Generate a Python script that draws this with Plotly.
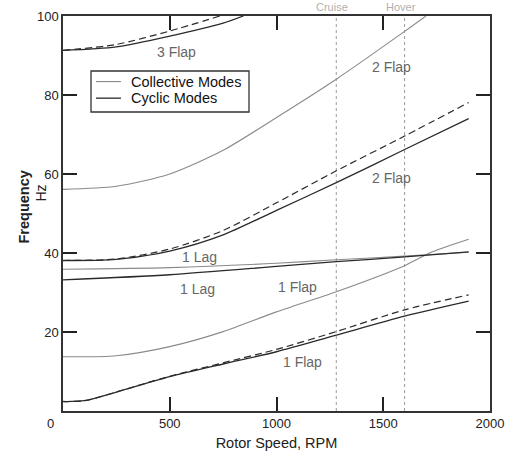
import plotly.graph_objects as go

# ---- data ----
rpm_3flap_cyc = [0, 250, 500, 750, 845]
hz_3flap_cyc = [91.3, 92.2, 94.9, 98.2, 100]
rpm_3flap_dash = [0, 250, 500, 735]
hz_3flap_dash = [91.3, 92.8, 96.2, 100]

rpm_2flap_col = [0, 250, 500, 750, 1000, 1280, 1600, 1700]
hz_2flap_col = [56.1, 56.9, 60.0, 66.0, 74.3, 84.0, 96.1, 100]

rpm_2flap_cyc = [0, 250, 500, 750, 1000, 1280, 1600, 1900]
hz_2flap_cyc = [38.1, 38.4, 40.5, 44.6, 50.8, 57.8, 66.2, 74.0]
rpm_2flap_dash = [0, 250, 500, 750, 1000, 1280, 1600, 1900]
hz_2flap_dash = [38.1, 38.5, 41.0, 45.7, 52.7, 60.8, 69.6, 78.1]

rpm_1lag_col = [0, 500, 1000, 1280, 1600, 1900]
hz_1lag_col = [35.9, 36.3, 37.4, 38.3, 39.2, 40.2]
rpm_1lag_cyc = [0, 500, 1000, 1280, 1600, 1900]
hz_1lag_cyc = [33.2, 34.5, 36.6, 37.8, 39.0, 40.3]

rpm_1flap_col = [0, 250, 500, 750, 1000, 1280, 1600, 1730, 1900]
hz_1flap_col = [13.75, 14.0, 16.3, 20.1, 25.1, 30.2, 36.8, 40.3, 43.5]

rpm_1flap_cyc = [0, 100, 250, 500, 750, 1000, 1280, 1600, 1900]
hz_1flap_cyc = [2.4, 2.6, 4.8, 8.7, 11.9, 15.0, 19.2, 24.0, 27.8]
rpm_1flap_dash = [0, 100, 250, 500, 750, 1000, 1280, 1600, 1900]
hz_1flap_dash = [2.4, 2.6, 4.8, 8.8, 12.2, 15.6, 20.1, 25.6, 29.4]

op_speeds = [1280, 1600]
op_labels = ["Cruise", "Hover"]

x_ticks = [0, 500, 1000, 1500, 2000]
y_ticks = [20, 40, 60, 80, 100]

mode_labels = ["3 Flap", "2 Flap", "2 Flap", "1 Lag", "1 Lag", "1 Flap", "1 Flap"]
label_rpm = [530, 1540, 1540, 640, 630, 1100, 1120]
label_hz = [91, 87, 59, 39, 31, 31.5, 12.3]

legend_names = ["Collective Modes", "Cyclic Modes"]

FONT = "Liberation Sans, Arial, Helvetica, sans-serif"
COL = "#8a8a8a"
CYC = "#2a2a2a"

fig = go.Figure()

def add(x, y, kind, name=None):
    if kind == "col":
        line = dict(color=COL, width=1.1)
    elif kind == "cyc":
        line = dict(color=CYC, width=1.3)
    else:
        line = dict(color=CYC, width=1.2, dash="7px,4px")
    line["shape"] = "spline"
    line["smoothing"] = 0.75
    fig.add_trace(go.Scatter(x=x, y=y, mode="lines", line=line,
                             name=name or kind, showlegend=False, hoverinfo="skip"))

add(rpm_1flap_dash, hz_1flap_dash, "dash")
add(rpm_2flap_dash, hz_2flap_dash, "dash")
add(rpm_3flap_dash, hz_3flap_dash, "dash")
add(rpm_2flap_col, hz_2flap_col, "col", legend_names[0])
add(rpm_1lag_col, hz_1lag_col, "col", legend_names[0])
add(rpm_1flap_col, hz_1flap_col, "col", legend_names[0])
add(rpm_3flap_cyc, hz_3flap_cyc, "cyc", legend_names[1])
add(rpm_2flap_cyc, hz_2flap_cyc, "cyc", legend_names[1])
add(rpm_1lag_cyc, hz_1lag_cyc, "cyc", legend_names[1])
add(rpm_1flap_cyc, hz_1flap_cyc, "cyc", legend_names[1])

for s in op_speeds:
    fig.add_shape(type="line", xref="x", yref="paper", x0=s, x1=s, y0=0, y1=1,
                  line=dict(color="#9a9a9a", width=1, dash="dot"), layer="below")

for s, t in zip(op_speeds, op_labels):
    fig.add_annotation(x=s, xref="x", y=1, yref="paper", text=t, showarrow=False,
                       xshift=-4, yshift=9, yanchor="middle", xanchor="center",
                       font=dict(family=FONT, size=11, color="#b0b0b0"))

for t, xr, yh in zip(mode_labels, label_rpm, label_hz):
    fig.add_annotation(x=xr, y=yh, text=t, showarrow=False, xanchor="center", yanchor="middle",
                       font=dict(family=FONT, size=14, color="#666666"))

# ---- legend box (drawn in paper coordinates) ----
fig.add_shape(type="rect", xref="paper", yref="paper", x0=0.0656, x1=0.4356, y0=0.757, y1=0.8608,
              line=dict(color="#333", width=1.3), fillcolor="white", layer="above")
leg_y = [0.8340, 0.7920]
leg_col = [COL, CYC]
leg_w = [1.1, 1.3]
for name, yy, c, w in zip(legend_names, leg_y, leg_col, leg_w):
    fig.add_shape(type="line", xref="paper", yref="paper", x0=0.0773, x1=0.1358, y0=yy, y1=yy,
                  line=dict(color=c, width=w), layer="above")
    fig.add_annotation(x=0.1546, xref="paper", y=yy, yref="paper", text=name, showarrow=False,
                       xanchor="left", yanchor="middle",
                       font=dict(family=FONT, size=14.5, color="#111"))

# lone "0" under the corner
fig.add_annotation(x=0, xref="paper", y=0, yref="paper", text="0", showarrow=False,
                   xanchor="center", yanchor="middle",
                   xshift=-13, yshift=-12, font=dict(family=FONT, size=13, color="#222"))

# y-axis title (two lines, rotated)
fig.add_annotation(x=0, xref="paper", y=0.5, yref="paper", text="<b>Frequency</b>", showarrow=False,
                   textangle=-90, xanchor="center", yanchor="middle", xshift=-40, yshift=6,
                   font=dict(family=FONT, size=14.5, color="#222"))
fig.add_annotation(x=0, xref="paper", y=0.5, yref="paper", text="Hz", showarrow=False,
                   textangle=-90, xanchor="center", yanchor="middle", xshift=-23, yshift=20,
                   font=dict(family=FONT, size=14, color="#222"))

fig.update_layout(
    width=514, height=452,
    margin=dict(l=63, r=24, t=16, b=41),
    paper_bgcolor="white", plot_bgcolor="white",
    font=dict(family=FONT, size=13, color="#222222"),
    showlegend=False,
    xaxis=dict(range=[0, 2000], tickvals=x_ticks,
               ticktext=["" if v == 0 else str(v) for v in x_ticks],
               ticks="inside", ticklen=14, tickwidth=1.5, tickcolor="#222",
               showline=True, linecolor="#333", linewidth=1.5, mirror="ticks",
               showgrid=False, zeroline=False, automargin=False, ticklabelstandoff=0,
               title=dict(text="Rotor Speed, RPM", standoff=8,
                          font=dict(family=FONT, size=14.5, color="#222"))),
    yaxis=dict(range=[0, 100], tickvals=y_ticks,
               ticks="inside", ticklen=14, tickwidth=1.5, tickcolor="#222",
               showline=True, linecolor="#333", linewidth=1.5, mirror="ticks",
               showgrid=False, zeroline=False, automargin=False),
)

fig.write_html("out.html")
